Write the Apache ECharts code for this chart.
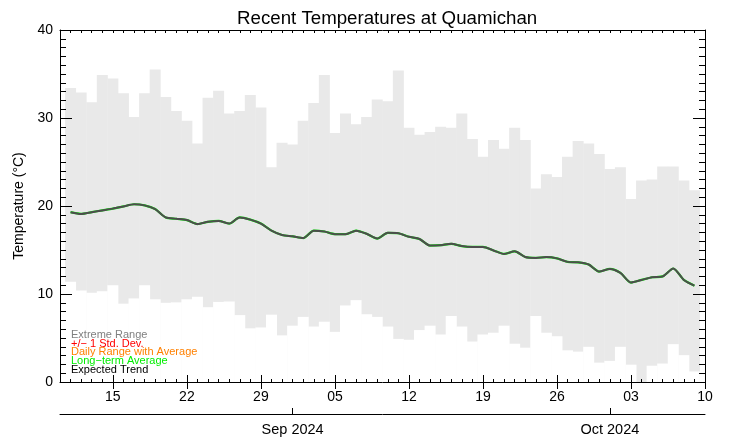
<!DOCTYPE html>
<html>
<head>
<meta charset="utf-8">
<title>Recent Temperatures at Quamichan</title>
<script src="https://cdn.jsdelivr.net/npm/echarts@6/dist/echarts.min.js"></script>
<style>
  html, body { margin: 0; padding: 0; background: #fff; }
  #chart { width: 742px; height: 445px; }
</style>
</head>
<body>
<div id="chart"></div>
<script>
// daily values, 11 Aug 2024 .. 9 Oct 2024
const extremeMax = [33.4, 32.9, 31.8, 34.9, 34.5, 32.8, 30.1, 32.8, 35.5, 32.4,
  30.8, 29.7, 27.1, 32.3, 33.1, 30.5, 30.8, 32.6, 31.2, 24.4,
  27.2, 27.0, 29.7, 31.7, 34.9, 28.3, 30.5, 29.3, 30.1, 32.1,
  31.9, 35.4, 28.9, 28.1, 28.4, 29.0, 28.9, 30.5, 27.6, 25.6,
  27.5, 26.5, 28.9, 27.5, 22.0, 23.6, 23.3, 25.6, 27.4, 27.1,
  25.9, 24.2, 24.4, 20.8, 22.9, 23.0, 24.5, 24.5, 22.9, 21.8]
const extremeMin = [11.4, 10.4, 10.15, 10.3, 11.0, 8.9, 9.5, 11.0, 9.4, 9.0,
  9.05, 9.4, 9.7, 8.5, 9.1, 9.15, 7.6, 6.1, 6.2, 7.65,
  5.3, 6.4, 7.4, 6.3, 6.85, 5.7, 8.7, 9.3, 7.7, 7.4,
  6.3, 4.9, 4.8, 5.9, 6.4, 5.4, 7.5, 6.3, 4.6, 5.4,
  5.6, 6.4, 4.35, 3.9, 7.5, 5.6, 5.2, 3.6, 3.45, 4.0,
  2.2, 2.4, 4.0, 1.97, -0.3, 1.85, 2.1, 4.3, 3.05, 1.2]
const expectedTrend = [19.3, 19.1, 19.3, 19.5, 19.7, 19.95, 20.2, 20.07, 19.65, 18.7,
  18.55, 18.4, 17.95, 18.2, 18.3, 18.0, 18.7, 18.45, 18.0, 17.2,
  16.7, 16.55, 16.35, 17.2, 17.1, 16.8, 16.8, 17.2, 16.85, 16.3,
  16.95, 16.9, 16.5, 16.25, 15.5, 15.55, 15.7, 15.45, 15.35, 15.35,
  14.95, 14.55, 14.85, 14.2, 14.1, 14.2, 14.05, 13.65, 13.6, 13.35,
  12.55, 12.85, 12.4, 11.3, 11.6, 11.9, 12.0, 12.9, 11.6, 10.95]
const longTermAvg = expectedTrend

// axis: one category per day, 10 Aug .. 10 Oct 2024
const firstDay = Date.UTC(2024, 7, 10)
const dayCount = 62
const days = []
for (let i = 0; i < dayCount; i++) {
  days.push(new Date(firstDay + i * 86400000).toISOString().slice(0, 10))
}
const weekTicks = ['2024-08-15', '2024-08-22', '2024-08-29', '2024-09-05', '2024-09-12',
  '2024-09-19', '2024-09-26', '2024-10-03', '2024-10-10']
const monthTicks = ['2024-09-01', '2024-10-01']
const monthLabels = ['Sep 2024', 'Oct 2024']
const yTicks = [0, 10, 20, 30, 40]

const legendNames = ['Extreme Range', '+/\u2212 1 Std. Dev.', 'Daily Range with Average', 'Long\u2212term Average', 'Expected Trend']
const legendColors = ['#808080', '#ff0000', '#ff8000', '#00ee00', '#000000']

const font = 'Liberation Sans'
const pad = arr => [null].concat(arr) // first category (10 Aug) has no data

const chart = echarts.init(document.getElementById('chart'))

const isWeek = (idx, val) => weekTicks.indexOf(val) >= 0
const isMonth = (idx, val) => monthTicks.indexOf(val) >= 0

function dayAxis(extra) {
  return Object.assign({
    type: 'category',
    data: days,
    boundaryGap: false,
    z: 10,
    axisLine: { show: false, lineStyle: { color: '#000', width: 1 } },
    axisTick: { show: true, inside: true, length: 3, interval: 0, lineStyle: { color: '#000' } },
    axisLabel: { show: false },
    splitLine: { show: false }
  }, extra)
}

function tempAxis(extra) {
  return Object.assign({
    type: 'value',
    min: yTicks[0],
    max: yTicks[yTicks.length - 1],
    interval: 10,
    z: 10,
    axisLine: { show: true, lineStyle: { color: '#000', width: 1 } },
    axisTick: { show: true, inside: true, length: 12, lineStyle: { color: '#000' } },
    minorTick: { show: true, splitNumber: 10, length: 6, lineStyle: { color: '#000' } },
    axisLabel: { show: false },
    splitLine: { show: false }
  }, extra)
}

chart.setOption({
  animation: false,
  textStyle: { fontFamily: font },
  title: {
    text: 'Recent Temperatures at Quamichan',
    left: 232,
    top: 4,
    textStyle: { fontFamily: font, fontSize: 18.7, fontWeight: 'normal', color: '#000' }
  },
  grid: { left: 60, right: 37, top: 30, bottom: 63, outerBoundsMode: 'none' },
  xAxis: [
    dayAxis({
      position: 'bottom',
      axisLine: { show: true, onZero: false, lineStyle: { color: '#000', width: 1 } },
      axisLabel: {
        show: true, interval: isWeek, margin: 8, color: '#000', fontSize: 14,
        formatter: val => val.slice(8)
      }
    }),
    dayAxis({ position: 'bottom', axisTick: { show: true, inside: true, length: 7, interval: isWeek, lineStyle: { color: '#000' } } }),
    dayAxis({ position: 'top', axisLine: { show: true, onZero: false, lineStyle: { color: '#000', width: 1 } } }),
    dayAxis({ position: 'top', axisTick: { show: true, inside: true, length: 7, interval: isWeek, lineStyle: { color: '#000' } } }),
    dayAxis({
      position: 'bottom',
      offset: 32,
      axisLine: { show: true, onZero: false, lineStyle: { color: '#000', width: 1 } },
      axisTick: { show: true, inside: true, length: 6, interval: isMonth, lineStyle: { color: '#000' } },
      axisLabel: {
        show: true, interval: isMonth, margin: 8, color: '#000', fontSize: 14.5,
        formatter: val => monthLabels[monthTicks.indexOf(val)]
      }
    })
  ],
  yAxis: [
    tempAxis({
      position: 'left',
      name: 'Temperature (\u00B0C)',
      nameLocation: 'middle',
      nameGap: 28,
      nameTextStyle: { fontFamily: font, fontSize: 14, color: '#000' },
      axisLabel: { show: true, margin: 7, color: '#000', fontSize: 14 }
    }),
    tempAxis({ position: 'right' })
  ],
  series: [
    {
      name: 'Extreme Range',
      type: 'bar',
      data: pad(extremeMax),
      barWidth: 11,
      barGap: '-100%',
      itemStyle: { color: '#e9e9e9' },
      silent: true
    },
    {
      name: 'Extreme Range low',
      type: 'bar',
      data: pad(extremeMin),
      barWidth: 11,
      barGap: '-100%',
      itemStyle: { color: '#ffffff' },
      silent: true
    },
    {
      name: 'Long-term Average',
      type: 'line',
      data: pad(longTermAvg),
      symbol: 'none',
      smooth: 0.25,
      lineStyle: { color: '#00ee00', width: 2.2 }
    },
    {
      name: 'Expected Trend',
      type: 'line',
      data: pad(expectedTrend),
      symbol: 'none',
      smooth: 0.25,
      lineStyle: { color: '#4d4d4d', width: 2 }
    }
  ],
  graphic: legendNames.map((name, i) => ({
    type: 'text',
    z: 100,
    style: {
      text: name,
      x: 71,
      y: 335 + i * 8.7,
      fill: legendColors[i],
      font: '11px "Liberation Sans"',
      align: 'left',
      verticalAlign: 'middle'
    }
  }))
})
</script>
</body>
</html>
